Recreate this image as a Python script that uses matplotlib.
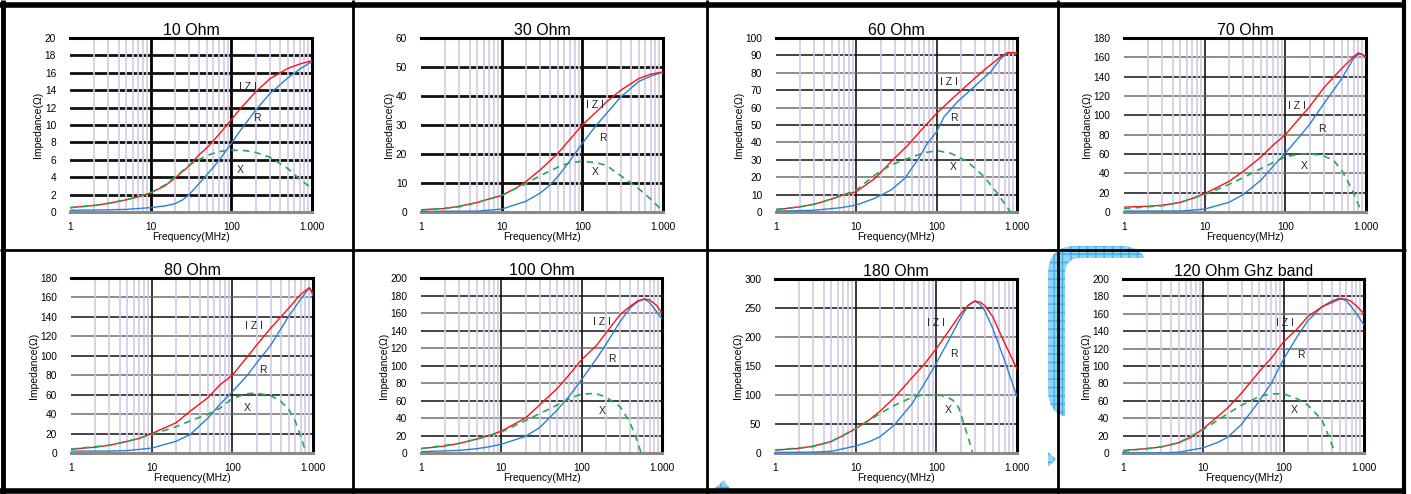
import matplotlib
matplotlib.use("Agg")
import matplotlib.pyplot as plt
from matplotlib.lines import Line2D
from matplotlib.patches import FancyBboxPatch, Polygon

plt.rcParams['font.family'] = ['Liberation Sans', 'DejaVu Sans']

titles = ["10 Ohm", "30 Ohm", "60 Ohm", "70 Ohm",
          "80 Ohm", "100 Ohm", "180 Ohm", "120 Ohm Ghz band"]
y_max = [20, 60, 100, 180, 180, 200, 300, 200]
y_step = [2, 10, 10, 20, 20, 20, 50, 20]

# |Z| curves (frequency MHz, ohm)
z_f = [
    [1, 2, 3, 5, 7, 10, 15, 20, 30, 40, 50, 70, 100, 130, 200, 300, 500, 700, 1000],
    [1, 2, 3, 5, 7, 10, 15, 20, 30, 50, 70, 100, 150, 200, 300, 500, 700, 1000],
    [1, 2, 3, 5, 6.5, 10, 17, 27, 44, 70, 100, 150, 240, 390, 630, 760, 1000],
    [1, 2, 3, 5, 7, 10, 20, 30, 50, 70, 100, 150, 200, 300, 500, 700, 800, 900, 1000],
    [1, 2, 3, 5, 7, 10, 20, 30, 50, 70, 100, 150, 200, 300, 500, 700, 900, 1000],
    [1, 2, 3, 5, 7, 10, 20, 30, 50, 70, 100, 150, 200, 300, 400, 500, 600, 700, 850, 1000],
    [1, 2, 3, 5, 7, 10, 15, 20, 30, 50, 70, 100, 150, 200, 250, 300, 350, 400, 500, 700, 1000],
    [1, 2, 3, 5, 7, 10, 20, 30, 50, 70, 100, 150, 200, 300, 500, 600, 700, 850, 1000],
]
z_v = [
    [0.5, 0.75, 1.0, 1.4, 1.75, 2.2, 3.0, 3.9, 5.3, 6.6, 7.4, 8.9, 10.6, 11.9, 13.8, 15.3, 16.5, 17.0, 17.4],
    [0.8, 1.2, 2.0, 3.3, 4.5, 5.7, 8.2, 10.5, 14.5, 20.3, 25, 30, 34.6, 38, 42, 46, 47.5, 48.3],
    [1.3, 3, 4.5, 7.5, 9.4, 11.7, 19.3, 28.9, 38.5, 49, 56.7, 64.4, 73, 81.6, 89.3, 91.6, 91.6],
    [5, 6, 7, 10, 14, 19, 31.6, 42, 57, 69, 80, 97, 109, 128.5, 148.5, 160.5, 164.6, 163, 160],
    [4, 6, 8, 12, 15, 20, 31, 43, 57, 70, 80, 98, 111, 128.6, 149, 163, 170, 165],
    [5, 8, 11, 16, 20, 25, 40, 55, 74, 89.5, 106.7, 122, 137, 158, 167.6, 174, 176, 175, 169, 160],
    [5, 8, 12, 20, 30, 42, 58, 72, 95, 130, 152, 180, 215, 240, 255, 262, 260, 254, 235, 190, 145],
    [3, 5, 7, 12, 18, 28, 51.6, 69, 94, 109, 128, 143.4, 157, 168, 177, 177, 174, 167, 160],
]

# R curves
r_f = [
    [1, 3, 5, 7, 10, 15, 20, 25, 30, 40, 50, 70, 100, 130, 200, 300, 500, 700, 1000],
    [1, 5, 10, 20, 30, 40, 50, 70, 100, 150, 200, 300, 500, 700, 1000],
    [1, 3, 6.5, 10, 17, 27, 40, 58, 77, 100, 124, 182, 293, 470, 630, 760, 1000],
    [1, 5, 10, 20, 30, 50, 70, 100, 150, 200, 300, 500, 700, 800, 900, 1000],
    [1, 3, 5, 10, 20, 30, 50, 70, 100, 150, 200, 300, 500, 700, 900, 1000],
    [1, 3, 5, 7, 10, 20, 30, 50, 70, 100, 150, 200, 300, 400, 500, 600, 700, 850, 1000],
    [1, 3, 5, 10, 15, 20, 30, 50, 70, 100, 150, 200, 250, 300, 350, 400, 500, 700, 1000],
    [1, 3, 5, 10, 15, 20, 30, 50, 70, 100, 150, 200, 300, 400, 500, 600, 700, 850, 1000],
]
r_v = [
    [0.2, 0.25, 0.3, 0.4, 0.5, 0.7, 0.95, 1.4, 2.0, 3.3, 4.3, 5.9, 7.9, 9.4, 11.7, 13.6, 15.4, 16.4, 17.3],
    [0.2, 0.3, 1.0, 3.7, 6.5, 9.4, 12.3, 17.6, 23.7, 30, 34, 39.7, 45, 46.8, 48.3],
    [0.5, 1.0, 2.5, 4.0, 7.9, 12.6, 19.3, 29.9, 39.5, 46.2, 54.8, 63.4, 72, 80.6, 88.3, 91.2, 91.6],
    [1, 1, 3, 10, 18, 33, 47, 61, 78, 90.7, 112, 138, 158.8, 163, 163, 160],
    [2, 2, 2.5, 5, 12, 19, 36, 50, 63, 79, 92.6, 111, 140.6, 158, 170, 162],
    [1.5, 3, 5, 7, 10, 19, 29, 49.5, 65, 84, 106.7, 124, 150, 165.7, 173, 176, 172, 162, 153],
    [1, 1.5, 3, 12, 20, 28, 48, 85, 118, 155, 200, 233, 255, 262, 256, 245, 215, 160, 97],
    [0, 0, 1, 6, 12, 18, 33, 60, 80, 108, 135, 152, 168, 175, 178, 175, 168, 157, 147],
]

# X curves (dashed)
x_f = [
    [1, 2, 3, 5, 7, 10, 15, 20, 30, 50, 70, 100, 150, 200, 300, 500, 700, 1000],
    [1, 3, 5, 10, 20, 30, 50, 70, 100, 150, 200, 300, 400, 500, 700, 1000],
    [1, 2, 3, 5, 6.5, 10, 17, 27, 44, 70, 103, 151, 242, 390, 570, 830],
    [1, 3, 5, 10, 20, 30, 50, 70, 100, 150, 200, 300, 400, 500, 600, 700, 850],
    [1, 3, 5, 10, 20, 30, 50, 70, 100, 150, 200, 300, 400, 500, 600, 700, 800],
    [1, 3, 5, 10, 20, 30, 50, 70, 100, 150, 200, 300, 400, 500, 550],
    [1, 3, 5, 10, 15, 20, 30, 50, 70, 100, 130, 160, 190, 220, 250, 280],
    [1, 3, 5, 10, 20, 30, 50, 70, 100, 150, 200, 300, 380, 435],
]
x_v = [
    [0.5, 0.75, 1.0, 1.4, 1.8, 2.2, 3.1, 4.0, 5.4, 6.5, 6.95, 7.1, 7.05, 6.85, 6.3, 5.0, 3.8, 2.7],
    [0.6, 1.8, 3.3, 5.7, 9.8, 12.5, 15.5, 17, 17.5, 17, 16, 12.5, 10, 8, 4.5, 0.3],
    [1.5, 3, 4.5, 7.5, 9.4, 12.6, 21.3, 27, 30.8, 34.1, 35.2, 33.7, 28.9, 20.3, 10.7, 0],
    [3.5, 6.5, 10, 18, 28.5, 35.5, 45, 51, 57, 60, 60.5, 58, 53, 43, 31, 20, 3],
    [4, 8, 12, 19, 27, 33, 40, 46, 56, 61, 61.5, 59, 53, 45, 33, 18, 3],
    [5, 11, 16, 24, 37, 45, 55, 62, 67.5, 68, 64, 53, 35, 12, 0],
    [5, 11, 20, 42, 57, 68, 82, 96, 100, 100, 98, 91, 78, 50, 25, 2],
    [2, 7, 12, 27, 45, 55, 65, 68, 68, 62, 55, 38, 15, 0],
]

# curve label anchors (freq, value)
lab_z = [(160, 14.4), (144, 37), (143, 75), (140, 110), (184, 131), (178, 150), (100, 224), (103, 149)]
lab_r = [(210, 10.8), (180, 25.4), (162, 54), (280, 86), (240, 85), (235, 107), (166, 170), (165, 113)]
lab_x = [(130, 4.8), (144, 13.7), (160, 25.6), (172, 48), (155, 46), (180, 48), (140, 74), (135, 49)]

# plot boxes in pixels: left, top, right, bottom
boxes = [
    (70, 38, 312, 212), (421, 38, 663, 212), (776, 38, 1017, 212), (1124, 38, 1366, 212),
    (71, 278, 313, 453), (421, 278, 662, 453), (775, 279, 1017, 453), (1123, 279, 1364, 453),
]

W, H = 1411, 494
fig = plt.figure(figsize=(W / 100, H / 100), dpi=100)
fig.patch.set_facecolor("white")

# background layer in pixel coordinates (decorative blue shape)
bg = fig.add_axes([0, 0, 1, 1], zorder=-5)
bg.set_xlim(0, W)
bg.set_ylim(H, 0)
bg.axis("off")
blue_kw = dict(facecolor="#92d4f4", edgecolor="#45ace6", hatch="++", lw=0)
bg.add_patch(FancyBboxPatch((1048, 246), 100, 172, boxstyle="round,pad=0,rounding_size=28", **blue_kw))
bg.add_patch(Polygon([(1048, 452), (1056, 459), (1048, 467)], closed=True, **blue_kw))
bg.add_patch(Polygon([(714, 489), (724, 480), (730, 489)], closed=True, **blue_kw))
bg.add_patch(FancyBboxPatch((1065, 258), 345, 240, boxstyle="round,pad=0,rounding_size=16",
                            facecolor="white", edgecolor="none"))

for i in range(8):
    l, t, r, b = boxes[i]
    ax = fig.add_axes([l / W, 1 - b / H, (r - l) / W, (b - t) / H])
    ax.set_xscale("log")
    ax.set_xlim(1, 1000)
    ax.set_ylim(0, y_max[i])
    thick = i < 2
    glw = 2.0 if thick else 1.1

    ax.set_xticks([1, 10, 100, 1000])
    ax.set_xticklabels(["1", "10", "100", "1.000"])
    ax.set_xticks([k * 10 ** d for d in range(3) for k in range(2, 10)], minor=True)
    ax.set_xticklabels([], minor=True)
    ax.set_yticks(list(range(0, y_max[i] + 1, y_step[i])))
    ax.tick_params(axis="both", which="both", length=0, labelsize=7.3)
    ax.tick_params(axis="y", pad=10)
    ax.tick_params(axis="x", pad=7)

    ax.grid(True, which="minor", axis="x", color="#d3cbe3", lw=1.2)
    for d in [10, 100]:
        ax.axvline(d, color="black", lw=glw, zorder=1.5)
    for n, yv in enumerate(range(y_step[i], y_max[i], y_step[i])):
        c = "#111111" if (thick or n % 2 == 0) else "#6e6e6e"
        ax.axhline(yv, color=c, lw=glw, zorder=1.5)

    ax.spines["left"].set_visible(False)
    ax.spines["top"].set_linewidth(2.2)
    ax.spines["right"].set_linewidth(2.2)
    ax.spines["bottom"].set_color("#8a8a8a")
    ax.spines["bottom"].set_linewidth(2.2)

    ax.plot(r_f[i], r_v[i], color="#2a80d0", lw=1.0, zorder=3)
    ax.plot(z_f[i], z_v[i], color="#ff1010", lw=1.0, zorder=3)
    ax.plot(x_f[i], x_v[i], color="#22aa55", lw=1.2, ls=(0, (4, 3)), zorder=3)

    ax.text(*lab_z[i], "I Z I", fontsize=7.5, ha="center", va="center", color="#222222", zorder=4)
    ax.text(*lab_r[i], "R", fontsize=7.5, ha="center", va="center", color="#222222", zorder=4)
    ax.text(*lab_x[i], "X", fontsize=7.5, ha="center", va="center", color="#222222", zorder=4)

    ax.set_title(titles[i], fontsize=11.5, pad=1)
    ax.set_xlabel("Frequency(MHz)", fontsize=7.5, labelpad=0)
    ax.set_ylabel("Impedance(Ω)", fontsize=7.5, labelpad=1)

# panel frame lines
def fline(x0, y0, x1, y1, lw):
    fig.add_artist(Line2D([x0 / W, x1 / W], [1 - y0 / H, 1 - y1 / H], color="black", lw=lw,
                          transform=fig.transFigure, solid_capstyle="butt"))

fline(0, 5, 1406, 5, 4.0)
fline(0, 491, 1406, 491, 4.0)
fline(2.5, 0, 2.5, 494, 3.5)
fline(1404, 0, 1404, 494, 3.0)
fline(0, 250, 1406, 250, 2.0)
for xv in [353, 707, 1058]:
    fline(xv, 0, xv, 494, 2.0)

plt.savefig("out.png", dpi=100)
plt.close()
